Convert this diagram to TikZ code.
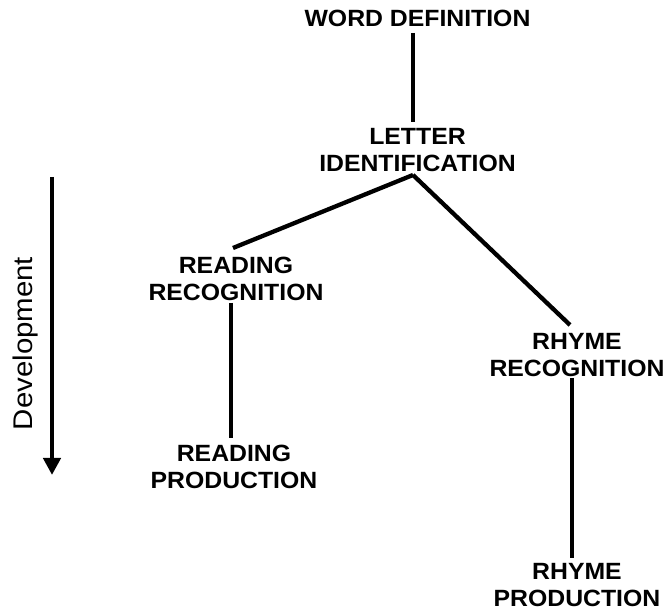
\documentclass[tikz,border=0pt]{standalone}
\usepackage{fontspec}
\setmainfont{Liberation Sans}
\newfontfamily\lblfont{Liberation Sans}[FakeStretch=1.055]
\newfontfamily\devfont{Liberation Sans}[FakeStretch=1.09]
\usetikzlibrary{arrows.meta}
\begin{document}
\begin{tikzpicture}[x=1pt,y=1pt,
  lbl/.style={inner sep=0pt,outer sep=0pt,align=center,font=\lblfont\bfseries\fontsize{23.5}{27}\selectfont},
  conn/.style={line width=4.3pt},
  devarrow/.style={line width=4.3pt,-{Triangle[length=17pt,width=17pt]}}]
\useasboundingbox (0,0) rectangle (667,612);
\node[lbl] (wd) at (417.5,593.5) {WORD DEFINITION};
\node[lbl] (li) at (417.5,462) {LETTER\\IDENTIFICATION};
\node[lbl] (rr) at (236,333.5) {READING\\RECOGNITION};
\node[lbl] (rp) at (234,145.5) {READING\\PRODUCTION};
\node[lbl] (hr) at (577,256.5) {RHYME\\RECOGNITION};
\node[lbl] (hp) at (577,27) {RHYME\\PRODUCTION};
\draw[conn] ([xshift=-4.5pt,yshift=-14.5pt]wd.center) -- ([xshift=-4.5pt,yshift=28pt]li.center);
\draw[conn] ([xshift=-4.5pt,yshift=-25pt]li.center) -- ([xshift=-3pt,yshift=30.5pt]rr.center);
\draw[conn] ([xshift=-4.5pt,yshift=-25pt]li.center) -- ([xshift=-7pt,yshift=30.5pt]hr.center);
\draw[conn] ([xshift=-5pt,yshift=-24.5pt]rr.center) -- ([xshift=-3pt,yshift=28.5pt]rp.center);
\draw[conn] ([xshift=-5pt,yshift=-22.5pt]hr.center) -- ([xshift=-5pt,yshift=27pt]hp.center);
\coordinate (ds) at (52,435);
\coordinate (de) at (52,137);
\draw[devarrow] (ds) -- (de);
\node[inner sep=0pt,rotate=90,anchor=base,font=\devfont\fontsize{27}{30}\selectfont] (dev) at (32,268.5) {Development};
\end{tikzpicture}
\end{document}
